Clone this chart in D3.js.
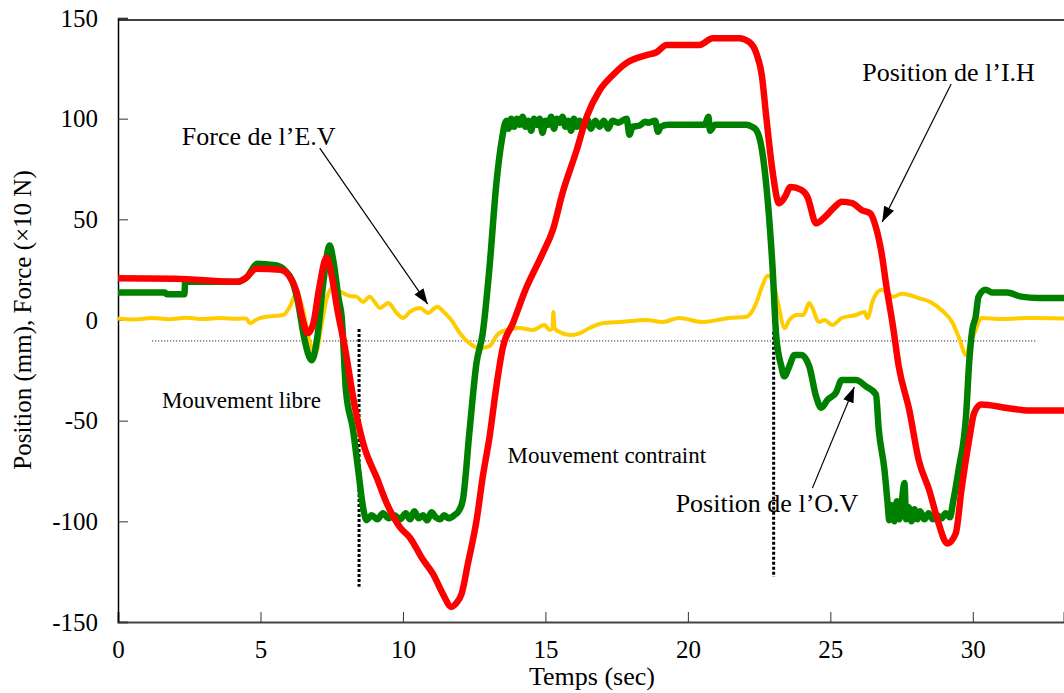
<!DOCTYPE html>
<html>
<head>
<meta charset="utf-8">
<script src="https://cdn.jsdelivr.net/npm/d3@7"></script>
<style>
  body { margin: 0; background: #fff; }
  svg text { font-family: "Liberation Serif", "Times New Roman", serif !important; fill: #000; }
</style>
</head>
<body>
<div id="chart"></div>
<script>
// time (sec) and values
var redT = [0, 2.0, 4.2, 4.5, 4.85, 5.7, 6.0, 6.27, 6.45, 6.66, 6.85, 7.05, 7.32, 7.5, 7.7, 7.96, 8.31, 8.6, 9.1, 9.43, 9.9, 10.24, 10.7, 11.05, 11.4, 11.7, 11.85, 12.06, 12.28, 12.59, 12.8, 13.04, 13.28, 13.5, 13.86, 14.3, 14.9, 15.26, 15.6, 16.1, 16.45, 16.9, 17.37, 17.85, 18.55, 18.9, 19.25, 20.4, 20.87, 21.8, 22.16, 22.4, 22.6, 22.75, 22.97, 23.2, 23.4, 23.6, 23.98, 24.2, 24.5, 24.8, 25.14, 25.4, 25.77, 26.1, 26.4, 26.6, 26.8, 26.97, 27.2, 27.4, 27.77, 28.1, 28.47, 28.8, 29.1, 29.4, 29.6, 29.87, 30.05, 30.3, 31.2, 31.98, 33.2];
var redV = [20.7, 20.5, 19, 21, 25.5, 25, 22, 14, 2, -6.5, -2, 15, 31, 22, 5, -13.4, -43, -61, -79, -91, -103, -108, -119, -126, -136, -142.5, -141, -136, -121, -99, -78, -58, -33, -14, -1.6, 15, 33, 44.7, 63, 84.5, 101, 114, 121.7, 127.7, 131.6, 133, 136.6, 136.6, 140, 140, 138, 132.6, 121, 101, 74, 58, 61, 66, 64.6, 61, 48, 51, 56, 58.7, 58, 54.6, 53, 46, 33, 16.5, -3.3, -23, -44.7, -69.5, -84.5, -101, -111, -106, -84.5, -59.6, -46, -42, -43.7, -45, -45];

var greenT = [0, 1.65, 1.7, 2.33, 2.36, 4.2, 4.5, 4.9, 5.3, 5.6, 5.9, 6.1, 6.3, 6.55, 6.8, 7.0, 7.2, 7.43, 7.55, 7.75, 7.85, 8.0, 8.25, 8.43, 8.6, 8.72,
  8.9, 9.1, 9.3, 9.5, 9.7, 9.9, 10.1, 10.25, 10.4, 10.55, 10.7, 10.85, 11.0, 11.15, 11.3, 11.45, 11.6, 11.8, 11.95,
  12.1, 12.34, 12.58, 12.8, 13.04, 13.28, 13.47, 13.63,
  13.7, 13.8, 13.9, 14.0, 14.1, 14.2, 14.3, 14.4, 14.5, 14.6, 14.7, 14.8, 14.9, 15.0, 15.1, 15.2, 15.3, 15.4, 15.5, 15.6, 15.7, 15.8, 15.9, 16.0, 16.1, 16.2, 16.3, 16.45, 16.6, 16.75, 16.9, 17.05, 17.2, 17.35, 17.55, 17.7, 17.85, 17.95, 18.06, 18.3, 18.5, 18.6, 18.85, 18.95, 19.05, 19.3, 20.6, 20.72, 20.78, 20.95, 22.05, 22.25,
  22.4, 22.6, 22.8, 22.97, 23.1, 23.28, 23.38, 23.56, 23.74, 23.98, 24.26, 24.5, 24.68, 24.9, 25.2, 25.4, 25.9, 26.25, 26.6, 26.7, 26.9, 27.0, 27.07,
  27.15, 27.25, 27.33, 27.42, 27.5, 27.6, 27.66, 27.75, 27.85, 27.95, 28.05, 28.15, 28.3, 28.45, 28.6, 28.75, 28.9, 29.05, 29.2, 29.3,
  29.5, 29.77, 29.87, 29.98, 30.1, 30.2, 30.45, 30.7, 31.2, 31.7, 32.3, 33.2];
var greenV = [13.6, 13.6, 12.8, 12.8, 19, 19, 21, 28, 27.5, 27, 24, 20, 10, -10, -20, -8, 18, 37, 30, 10, 1.6, -35, -54.6, -74.5, -93, -99.4,
  -97, -99, -96, -98.5, -97, -99, -96, -99, -95, -98.5, -97, -99.5, -95.5, -98, -99, -97, -98.5, -97, -95,
  -89.6, -54.6, -21.5, -6.6, 26.5, 68, 89.4, 99,
  95, 100, 96, 100, 97, 101, 96, 99, 94, 100, 97, 100, 93, 99, 97, 101, 95, 100, 98, 101, 96, 99, 94, 100, 96, 99, 95, 100, 95, 99, 96, 99, 95, 99, 98, 99, 100, 92, 96, 96.5, 98.5, 98, 99, 93.5, 96, 97, 97, 101, 94, 97, 97, 96,
  94.4, 84.5, 59.6, 26.5, -8, -23, -28, -23, -17.4, -17.4, -23, -38, -43.6, -39.7, -36, -29.8, -29.8, -33, -37, -54.6, -74.5, -89.4, -99.4,
  -92, -100, -90, -99, -91, -81, -99, -93, -100, -94, -99, -95, -99, -96, -99, -97, -98.5, -96, -98, -91,
  -74.5, -46, -21.5, -5, 1.6, 11.6, 15, 13.6, 13.6, 11.6, 10.9, 10.9];

var yellowT = [0, 0.6, 1.2, 1.8, 2.4, 3.0, 3.6, 4.2, 4.5, 4.63, 4.9, 5.2, 5.8, 6.03, 6.27, 6.5, 6.75, 6.95, 7.15, 7.35, 7.55, 7.9, 8.1, 8.37, 8.6, 8.83, 9.2, 9.48, 9.78, 10.0, 10.24, 10.6, 10.88, 11.2, 11.47, 11.7, 12.0, 12.34, 12.7, 13.04, 13.3, 13.63, 14.1, 14.55, 14.97, 15.15, 15.25, 15.28, 15.32, 15.5, 15.85, 16.2, 16.55, 17.0, 17.6, 18.55, 19.1, 19.7, 20.5, 21.45, 22.05, 22.4, 22.6, 22.8, 22.97, 23.14, 23.4, 23.56, 23.84, 24.05, 24.26, 24.35, 24.6, 24.8, 25.07, 25.4, 25.9, 26.2, 26.3, 26.5, 26.8, 27.2, 27.5, 27.77, 28.1, 28.5, 28.9, 29.3, 29.5, 29.77, 29.87, 30.1, 30.3, 31.0, 32.0, 33.2];
var yellowV = [0.8, 0.3, 1, 0.4, 1.1, 0.5, 1, 0.6, 0.8, -1.6, 0.5, 1.6, 2.5, 6.6, 13.4, 5, -12, -16, -2, 12, 16, 13.4, 12, 11.6, 9, 11.6, 6, 8.4, 3.5, 1, 4, 6, 3.5, 6.6, 3.5, 0, -6.6, -11.6, -14, -13, -7.5, -5, -4, -5, -2.5, -5, -4, 4, -4, -6, -7.5, -6.6, -4, -1.6, -1, 0, -1, 1, -1, 1, 1.6, 8.4, 16.5, 22, 20, 10, -4, 0, 2.5, 2.5, 8.4, 6.6, -1, 0, -2.5, 1, 2.5, 4, 1, 10, 15, 11.6, 13, 12.4, 10.9, 9, 5, -1.6, -8.3, -17.4, -13, -5, 1, 0.5, 1, 0.8];

var xTicks = [0, 5, 10, 15, 20, 25, 30];
var yTicks = [-150, -100, -50, 0, 50, 100, 150];

// reference lines
var refLine = [[1.2, -10.4], [32.26, -10.4]];
var boundaryT = [8.46, 23.01];
var boundaryTop = [-4.5, -5.8];
var boundaryBottom = [-132.5, -127.7];

// annotations: text start, arrow start and tip in data units
var labels = ["Force de l\u2019E.V", "Position de l\u2019I.H", "Position de l\u2019O.V"];
var labelT = [2.24, 26.12, 19.57];
var labelV = [86.9, 118.7, -95.4];
var arrowFrom = [[7.08, 85.4], [29.24, 117.2], [24.37, -83.5]];
var arrowTo = [[10.87, 7.9], [26.82, 48.7], [25.84, -33.3]];
var zoneLabels = ["Mouvement libre", "Mouvement contraint"];
var zoneT = [1.54, 13.67];
var zoneV = [-43.7, -71];

var W = 1064, H = 693;
var x = d3.scaleLinear().domain([0, 33.2]).range([118, 1064]);
var y = d3.scaleLinear().domain([-150, 150]).range([622, 18]);

var svg = d3.select("#chart").append("svg")
	.attr("width", W)
	.attr("height", H);

svg.append("defs").append("marker")
	.attr("id", "head")
	.attr("markerUnits", "userSpaceOnUse")
	.attr("viewBox", "0 0 14 10")
	.attr("refX", 14).attr("refY", 5)
	.attr("markerWidth", 16).attr("markerHeight", 11)
	.attr("orient", "auto")
  .append("path")
	.attr("d", "M0,0 L14,5 L0,10 Z")
	.attr("fill", "#000");

// frame
svg.append("line")
	.attr("x1", x(0)).attr("x2", W)
	.attr("y1", 20).attr("y2", 20)
	.attr("stroke", "#000").attr("stroke-width", 1.5);

var fmt = function(d){ return String(d); };

//x axis
var gx = svg.append("g")
	.attr("transform", "translate(0," + y(-150) + ")")
	.call(d3.axisBottom(x).tickValues(xTicks).tickFormat(fmt).tickSize(-10).tickPadding(18));
gx.select(".domain").attr("stroke", "#444").attr("stroke-width", 2);
gx.selectAll(".tick line").attr("stroke", "#333");
gx.attr("font-family", "Liberation Serif").attr("font-size", 25);

//y axis
var gy = svg.append("g")
	.attr("transform", "translate(" + x(0) + ",0)")
	.call(d3.axisLeft(y).tickValues(yTicks).tickFormat(fmt).tickSize(-10).tickPadding(20));
gy.select(".domain").attr("stroke", "#000").attr("stroke-width", 1.5);
gy.selectAll(".tick line").attr("stroke", "#333");
gy.attr("font-family", "Liberation Serif").attr("font-size", 25);

svg.append("text")
	.attr("x", 592).attr("y", 685)
	.attr("text-anchor", "middle")
	.attr("font-size", 26)
	.text("Temps (sec)");

svg.append("text")
	.attr("transform", "translate(31," + y(0) + ") rotate(-90)")
	.attr("text-anchor", "middle")
	.attr("font-size", 25)
	.text("Position (mm), Force (\u00d710 N)");

// dotted reference lines
svg.append("line")
	.attr("x1", x(refLine[0][0])).attr("x2", x(refLine[1][0]))
	.attr("y1", y(refLine[0][1])).attr("y2", y(refLine[1][1]))
	.attr("stroke", "#000").attr("stroke-width", 1)
	.attr("stroke-dasharray", "1,2");

svg.selectAll(".bound")
	.data(boundaryT)
	.enter().append("line")
	.attr("class", "bound")
	.attr("x1", function(d){return x(d);})
	.attr("x2", function(d){return x(d);})
	.attr("y1", function(d, i){return y(boundaryTop[i]);})
	.attr("y2", function(d, i){return y(boundaryBottom[i]);})
	.attr("stroke", "#000").attr("stroke-width", 3)
	.attr("stroke-dasharray", "3,2");

var line = d3.line()
	.x(function(d){return x(d[0]);})
	.y(function(d){return y(d[1]);})
	.curve(d3.curveMonotoneX);

function pairs(t, v) { return t.map(function(d, i){ return [d, v[i]]; }); }

svg.append("path")
	.datum(pairs(yellowT, yellowV))
	.attr("d", line)
	.attr("fill", "none").attr("stroke", "#FFCC00")
	.attr("stroke-width", 4).attr("stroke-linejoin", "round");

svg.append("path")
	.datum(pairs(greenT, greenV))
	.attr("d", line)
	.attr("fill", "none").attr("stroke", "#008000")
	.attr("stroke-width", 6.5).attr("stroke-linejoin", "round");

svg.append("path")
	.datum(pairs(redT, redV))
	.attr("d", line)
	.attr("fill", "none").attr("stroke", "#FF0000")
	.attr("stroke-width", 6.5).attr("stroke-linejoin", "round");

// annotations
svg.selectAll(".ann")
	.data(labels)
	.enter().append("text")
	.attr("class", "ann")
	.attr("x", function(d, i){return x(labelT[i]);})
	.attr("y", function(d, i){return y(labelV[i]);})
	.attr("font-size", 26)
	.text(function(d){return d;});

svg.selectAll(".arrow")
	.data(arrowFrom)
	.enter().append("line")
	.attr("class", "arrow")
	.attr("x1", function(d){return x(d[0]);})
	.attr("y1", function(d){return y(d[1]);})
	.attr("x2", function(d, i){return x(arrowTo[i][0]);})
	.attr("y2", function(d, i){return y(arrowTo[i][1]);})
	.attr("stroke", "#000").attr("stroke-width", 1.2)
	.attr("marker-end", "url(#head)");

svg.selectAll(".zone")
	.data(zoneLabels)
	.enter().append("text")
	.attr("class", "zone")
	.attr("x", function(d, i){return x(zoneT[i]);})
	.attr("y", function(d, i){return y(zoneV[i]);})
	.attr("font-size", 23)
	.text(function(d){return d;});
</script>
</body>
</html>
